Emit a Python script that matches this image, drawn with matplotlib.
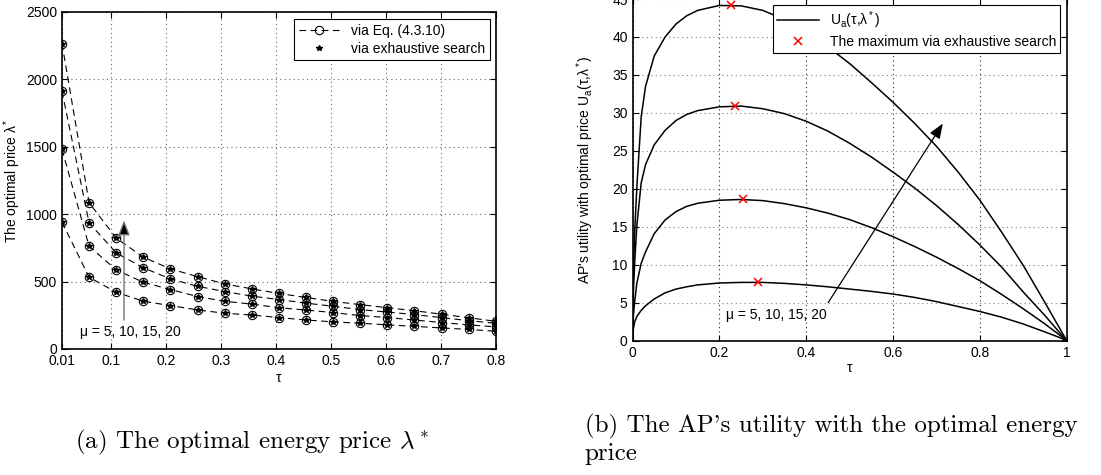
import matplotlib.pyplot as plt
import numpy as np
from matplotlib.lines import Line2D

plt.rcParams['font.family'] = ['Liberation Sans', 'DejaVu Sans']
plt.rcParams['mathtext.fontset'] = 'custom'
plt.rcParams['mathtext.rm'] = 'Liberation Sans'
plt.rcParams['mathtext.it'] = 'Liberation Sans:italic'
plt.rcParams['font.size'] = 10

# (a) optimal price vs tau, one row per mu = 5, 10, 15, 20
tau_a = np.linspace(0.01, 0.8, 17)
price_mu5 = [941, 532, 421, 354, 322, 290, 265, 252, 233, 215, 201, 191, 179, 168, 156, 145, 132]
price_mu10 = [1481, 762, 587, 495, 441, 389, 354, 333, 306, 289, 270, 248, 233, 215, 196, 179, 164]
price_mu15 = [1912, 936, 713, 602, 520, 465, 426, 392, 367, 340, 317, 292, 274, 255, 233, 210, 191]
price_mu20 = [2266, 1085, 822, 681, 594, 537, 483, 446, 412, 382, 353, 329, 306, 284, 258, 232, 205]
prices = [price_mu5, price_mu10, price_mu15, price_mu20]

# (b) AP's utility curves
tau_b = [0, 0.002, 0.005, 0.01, 0.02, 0.03, 0.05, 0.075, 0.1, 0.125, 0.15, 0.2, 0.25,
         0.3, 0.35, 0.4, 0.45, 0.5, 0.55, 0.6, 0.65, 0.7, 0.75, 0.8, 0.85, 0.9, 0.95, 0.98, 1.0]
u_mu5 = [0, 1.6, 2.5, 3.2, 4.0, 4.6, 5.5, 6.3, 6.8, 7.1, 7.35, 7.6, 7.68,
         7.68, 7.55, 7.35, 7.1, 6.8, 6.5, 6.15, 5.7, 5.15, 4.5, 3.85, 3.1, 2.2, 1.15, 0.5, 0]
u_mu10 = [0, 3.3, 5.2, 7.6, 10.2, 11.7, 14.1, 15.9, 17.0, 17.7, 18.1, 18.5, 18.6,
          18.45, 18.05, 17.5, 16.8, 15.95, 14.9, 13.7, 12.4, 11.0, 9.5, 7.9, 6.1, 4.2, 2.2, 0.9, 0]
u_mu15 = [0, 6.5, 10.3, 15.2, 20.8, 23.2, 25.8, 27.7, 29.0, 29.8, 30.3, 30.8, 30.9,
          30.55, 29.9, 28.9, 27.6, 26.0, 24.2, 22.2, 20.1, 17.8, 15.3, 12.6, 9.7, 6.4, 3.3, 1.3, 0]
u_mu20 = [0, 9.0, 14.4, 20.3, 29.5, 33.5, 37.5, 40.0, 41.7, 42.8, 43.5, 44.15, 44.1,
          43.5, 42.3, 40.7, 38.7, 36.5, 34.0, 31.4, 28.6, 25.6, 22.2, 18.5, 14.3, 9.9, 5.0, 2.0, 0]
utilities = [u_mu5, u_mu10, u_mu15, u_mu20]

max_tau = [0.289, 0.254, 0.236, 0.226]
max_u = [7.68, 18.6, 30.9, 44.2]

fig = plt.figure(figsize=(11.01, 4.75), dpi=100)

# ---- (a)
ax1 = fig.add_axes([0.0563, 0.2653, 0.394, 0.7095])
for p in prices:
    ax1.plot(tau_a, p, ls=(0, (6, 4)), color='k', lw=0.8, marker='o', ms=6,
             mfc='none', mec='k', mew=0.8)
    ax1.plot(tau_a, p, ls='none', marker='*', color='k', ms=4)
ax1.set_xlim(0.01, 0.8)
ax1.set_ylim(0, 2500)
ax1.set_xticks([0.01, 0.1, 0.2, 0.3, 0.4, 0.5, 0.6, 0.7, 0.8])
ax1.set_xticklabels(['0.01', '0.1', '0.2', '0.3', '0.4', '0.5', '0.6', '0.7', '0.8'])
ax1.set_yticks([0, 500, 1000, 1500, 2000, 2500])
ax1.set_xlabel('τ')
ax1.set_ylabel('The optimal price λ$^*$')
ax1.xaxis.set_label_coords(0.5, -0.065)
ax1.yaxis.set_label_coords(-0.09, 0.5)
ax1.annotate('', xy=(0.123, 975), xytext=(0.123, 195),
             arrowprops=dict(arrowstyle='-|>,head_length=0.9,head_width=0.35', ec='0.45', fc='k', lw=1))
ax1.text(0.042, 123, 'μ = 5, 10, 15, 20', va='center', ha='left')
h1 = [Line2D([], [], ls=(0, (6, 4)), color='k', lw=0.8, marker='o', mfc='none', ms=6, mew=0.8),
      Line2D([], [], ls='none', marker='*', color='k', ms=4)]
leg1 = ax1.legend(h1, ['via Eq. (4.3.10)', 'via exhaustive search'], loc='upper right',
                  bbox_to_anchor=(0.986, 0.978), fancybox=False, framealpha=1,
                  edgecolor='k', borderaxespad=0, handlelength=3, labelspacing=0.3,
                  borderpad=0.3)
leg1.get_frame().set_linewidth(0.8)
ax1.grid(True, ls=(0, (1, 3)), color='0.4', lw=0.8)

# ---- (b)
ax2 = fig.add_axes([0.5745, 0.2827, 0.3944, 0.7194])
for u in utilities:
    ax2.plot(tau_b, u, color='k', lw=1.1)
ax2.plot(max_tau, max_u, ls='none', marker='x', color='red', ms=6, mew=1.1)
ax2.set_xlim(0, 1)
ax2.set_ylim(0, 45)
ax2.set_xticks([0, 0.2, 0.4, 0.6, 0.8, 1])
ax2.set_xticklabels(['0', '0.2', '0.4', '0.6', '0.8', '1'])
ax2.set_yticks(range(0, 50, 5))
ax2.set_xlabel('τ')
ax2.set_ylabel("AP's utility with optimal price U$_{\\rm a}$(τ,λ$^*$)")
ax2.xaxis.set_label_coords(0.5, -0.059)
ax2.yaxis.set_label_coords(-0.084, 0.5)
ax2.annotate('', xy=(0.718, 28.9), xytext=(0.447, 4.7),
             arrowprops=dict(arrowstyle='-|>,head_length=0.9,head_width=0.35', color='k', lw=0.9))
ax2.text(0.447, 3.4, 'μ = 5, 10, 15, 20', va='center', ha='right')
h2 = [Line2D([], [], color='k', lw=1.1),
      Line2D([], [], ls='none', marker='x', color='red', ms=6, mew=1.1)]
leg2 = ax2.legend(h2, ['U$_{\\rm a}$(τ,λ$^*$)', 'The maximum via exhaustive search'],
                  loc='upper right', bbox_to_anchor=(0.985, 0.982), fancybox=False,
                  framealpha=1, edgecolor='k', borderaxespad=0, handlelength=3,
                  labelspacing=0.3, borderpad=0.3)
leg2.get_frame().set_linewidth(0.8)
ax2.xaxis.grid(True, ls=(0, (1, 3)), color='0.15', lw=0.8)
ax2.yaxis.grid(True, ls=(0, (1, 3)), color='0.5', lw=0.8)

for ax in (ax1, ax2):
    ax.tick_params(direction='in', top=True, right=True, length=4, width=0.8)
    for s in ax.spines.values():
        s.set_linewidth(1.2)

# captions
cap = dict(family=['cmr10', 'DejaVu Serif'], math_fontfamily='cm', fontsize=18, va='center')
fig.text(0.068, 0.069, r'(a) The optimal energy price $\lambda^*$', **cap)
fig.text(0.531, 0.103, "(b) The AP's utility with the optimal energy", **cap)
fig.text(0.531, 0.044, 'price', **cap)

fig.savefig('out.png', dpi=100)
